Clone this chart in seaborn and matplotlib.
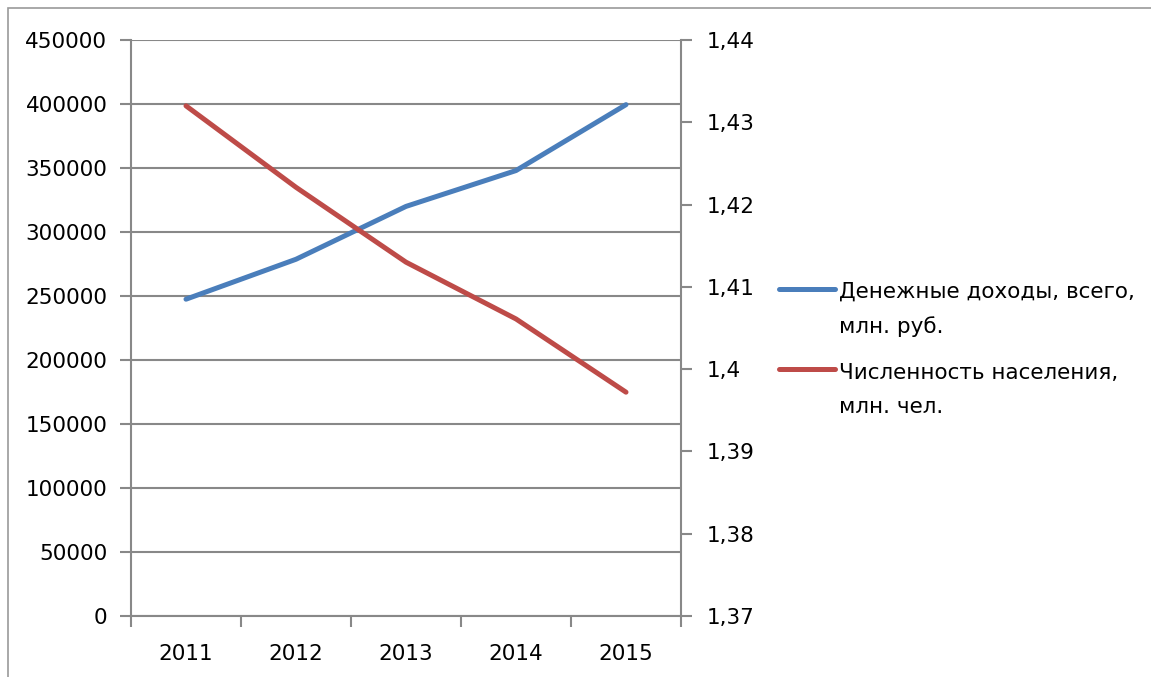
import numpy as np
import pandas as pd
import matplotlib
matplotlib.use("Agg")
import matplotlib.pyplot as plt
import seaborn as sns
from matplotlib.lines import Line2D
from matplotlib.legend_handler import HandlerLine2D
from matplotlib.patches import Rectangle
from matplotlib.ticker import FixedLocator, FuncFormatter

# data
years = [2011, 2012, 2013, 2014, 2015]
income = [247500, 278700, 320000, 348000, 399500]        # money income, mln rub
population = [1.4320, 1.4221, 1.4130, 1.4061, 1.3972]    # population, mln people

income_label = "Денежные доходы, всего,\nмлн. руб."
population_label = "Численность населения,\nмлн. чел."

BLUE = "#4A7EBB"
RED = "#BE4B48"
GRID = "#888888"
FS = 15.5


class FirstLineHandler(HandlerLine2D):
    """Legend line drawn next to the first line of a two-line label."""

    def create_artists(self, legend, orig_handle, xdescent, ydescent,
                       width, height, fontsize, trans):
        artists = super().create_artists(legend, orig_handle, xdescent, ydescent,
                                         width, height, fontsize, trans)
        for a in artists:
            a.set_ydata(np.asarray(a.get_ydata()) + fontsize * 0.97)
        return artists


sns.set_theme(style="white")
plt.rcParams["font.family"] = ["DejaVu Sans"]

df = pd.DataFrame({"year": years, "income": income, "population": population})

fig = plt.figure(figsize=(11.51, 6.77), dpi=100)
ax = fig.add_axes([131 / 1151, 1 - 616 / 677, 550 / 1151, 576 / 677])
ax2 = ax.twinx()

sns.lineplot(data=df, x="year", y="income", ax=ax, color=BLUE, lw=3.6,
             label=income_label, solid_capstyle="round", legend=False)
sns.lineplot(data=df, x="year", y="population", ax=ax2, color=RED, lw=3.6,
             label=population_label, solid_capstyle="round", legend=False)

# axes ranges
ax.set_xlim(2010.5, 2015.5)
ax.set_ylim(0, 450000)
ax2.set_ylim(1.37, 1.44)

# left axis
ax.yaxis.set_major_locator(FixedLocator(np.arange(0, 450001, 50000)))
ax.yaxis.set_major_formatter(FuncFormatter(lambda v, p: f"{int(v)}"))
ax.grid(axis="y", color=GRID, lw=1.5)
ax.set_axisbelow(True)

# right axis
ax2.yaxis.set_major_locator(FixedLocator(np.round(np.arange(1.37, 1.4401, 0.01), 2)))
ax2.yaxis.set_major_formatter(
    FuncFormatter(lambda v, p: f"{v:.2f}".rstrip("0").replace(".", ",")))

# x axis: ticks on category boundaries, labels in the middle
ax.xaxis.set_major_locator(FixedLocator(np.arange(2010.5, 2015.6, 1)))
ax.xaxis.set_major_formatter(FuncFormatter(lambda v, p: ""))
ax.xaxis.set_minor_locator(FixedLocator(years))
ax.xaxis.set_minor_formatter(FuncFormatter(lambda v, p: f"{int(round(v))}"))

for a in (ax, ax2):
    a.set_xlabel("")
    a.set_ylabel("")
    a.spines["top"].set_visible(False)
    for s in a.spines.values():
        s.set_color(GRID)
        s.set_linewidth(1.5)

ax.spines["right"].set_visible(False)
ax2.spines["left"].set_visible(False)
ax2.spines["bottom"].set_visible(False)

ax.tick_params(axis="y", which="major", left=True, length=8, width=1.5, color=GRID,
               labelsize=FS, pad=9, labelcolor="black")
ax.tick_params(axis="x", which="major", bottom=True, length=8, width=1.5, color=GRID,
               direction="out")
ax.tick_params(axis="x", which="minor", bottom=True, length=0, labelsize=FS,
               pad=20, labelcolor="black")
ax2.tick_params(axis="y", right=True, length=8, width=1.5, color=GRID,
                labelsize=FS, pad=10.5, labelcolor="black")

handles = ax.get_lines()[:1] + ax2.get_lines()[:1]
leg = fig.legend(handles, [income_label, population_label],
                 loc="upper left", bbox_to_anchor=(760 / 1151, 1 - 262 / 677),
                 frameon=False, fontsize=FS, handlelength=2.6, handletextpad=0.15,
                 labelspacing=1.2, handler_map={Line2D: FirstLineHandler()})
for t in leg.get_texts():
    t.set_color("black")
    t.set_linespacing(1.88)

# outer chart border (partly cropped in the reference)
fig.patches.append(Rectangle((8 / 1151, -0.1), 1.2, 1 - 8 / 677 + 0.1,
                             transform=fig.transFigure, fill=False,
                             edgecolor="#9a9a9a", lw=1.2))

fig.savefig("out.png", dpi=100)
